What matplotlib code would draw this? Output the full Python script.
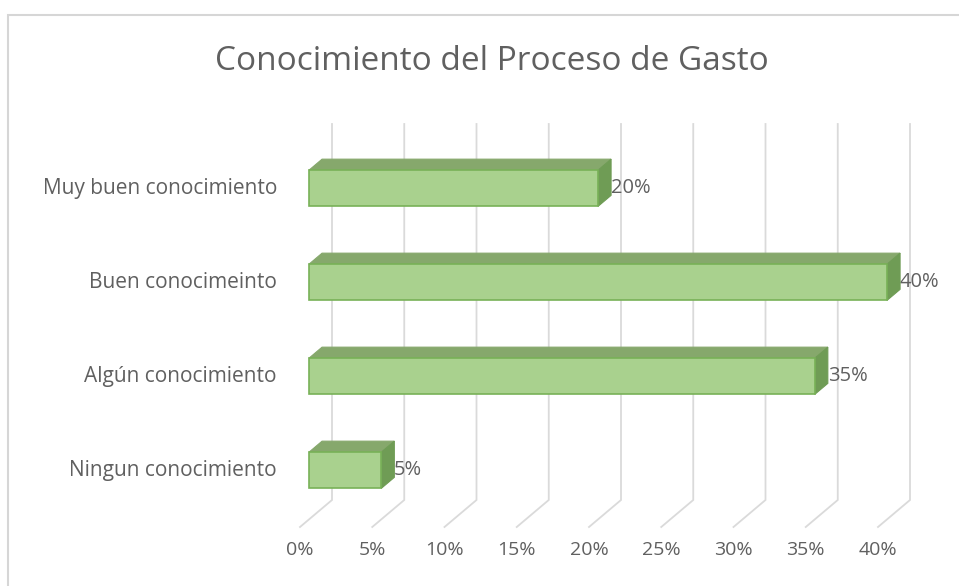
"""Horizontal 3D-style bar chart: Conocimiento del Proceso de Gasto."""
import matplotlib
matplotlib.use("Agg")
import matplotlib.pyplot as plt
from matplotlib.patches import Polygon, Rectangle

categories = ["Ningun conocimiento", "Algún conocimiento",
              "Buen conocimeinto", "Muy buen conocimiento"]
values = [5, 35, 40, 20]
ticks = [0, 5, 10, 15, 20, 25, 30, 35, 40]
title = "Conocimiento del Proceso de Gasto"

FONT = "Open Sans"
TXT = "#606060"
GRID = "#dadada"
FRONT = "#a9d18e"
EDGE = "#78b157"
TOP = "#86a86c"
SIDE = "#6f9c55"

# oblique depth offset (full depth) in data units
DX, DY = 32 / 14.45, 27 / 94
D_FRONT, D_BACK = 0.28, 0.69
BAR_LO, BAR_H = 0.33, 0.385


def proj(v, y, d):
    return (v + d * DX, y + d * DY)


fig = plt.figure(figsize=(9.59, 5.86), dpi=100)
ax = fig.add_axes([0, 0, 1, 1])
ax.set_xlim(-300 / 14.45, 659 / 14.45)
ax.set_ylim(-59 / 94, 527 / 94)
ax.set_axis_off()

# chart frame
fig.add_artist(Rectangle((8 / 959, -0.05), 1.2, 1 - 15 / 586 + 0.05,
                         transform=fig.transFigure, fill=False,
                         edgecolor="#d6d6d6", linewidth=1.5))

n = len(categories)
# back wall + floor gridlines
for t in ticks:
    x0, y0 = proj(t, 0, 1)
    x1, y1 = proj(t, n, 1)
    xf, yf = proj(t, 0, 0)
    ax.plot([xf, x0, x1], [yf, y0, y1], color=GRID, lw=1.3,
            solid_joinstyle="miter", zorder=1)
    ax.annotate(f"{t}%", xy=(xf, yf), xytext=(0, -23),
                textcoords="offset pixels", ha="center", va="center",
                color=TXT, fontsize=14, family=FONT)

for i, (cat, v) in enumerate(zip(categories, values)):
    yb, yt = i + BAR_LO, i + BAR_LO + BAR_H
    front = [proj(0, yb, D_FRONT), proj(v, yb, D_FRONT),
             proj(v, yt, D_FRONT), proj(0, yt, D_FRONT)]
    top = [proj(0, yt, D_FRONT), proj(v, yt, D_FRONT),
           proj(v, yt, D_BACK), proj(0, yt, D_BACK)]
    side = [proj(v, yb, D_FRONT), proj(v, yb, D_BACK),
            proj(v, yt, D_BACK), proj(v, yt, D_FRONT)]
    ax.add_patch(Polygon(top, closed=True, facecolor=TOP, edgecolor=TOP,
                         lw=0.8, zorder=3))
    ax.add_patch(Polygon(side, closed=True, facecolor=SIDE, edgecolor=SIDE,
                         lw=0.8, zorder=3))
    ax.add_patch(Polygon(front, closed=True, facecolor=FRONT, edgecolor=EDGE,
                         lw=1.2, zorder=4))

    cy = (yb + yt) / 2
    ax.annotate(cat, xy=proj(0, cy, D_FRONT), xytext=(-32, 0),
                textcoords="offset pixels", ha="right", va="center",
                color=TXT, fontsize=15, family=FONT)
    ax.annotate(f"{v}%", xy=proj(v, cy, D_FRONT), xytext=(13, 0),
                textcoords="offset pixels", ha="left", va="center",
                color=TXT, fontsize=14.5, family=FONT, zorder=2)

fig.text(492 / 959, 1 - 62 / 586, title, ha="center", va="center",
         color=TXT, fontsize=24, family=FONT)

fig.savefig("out.png", dpi=100, facecolor="white")
